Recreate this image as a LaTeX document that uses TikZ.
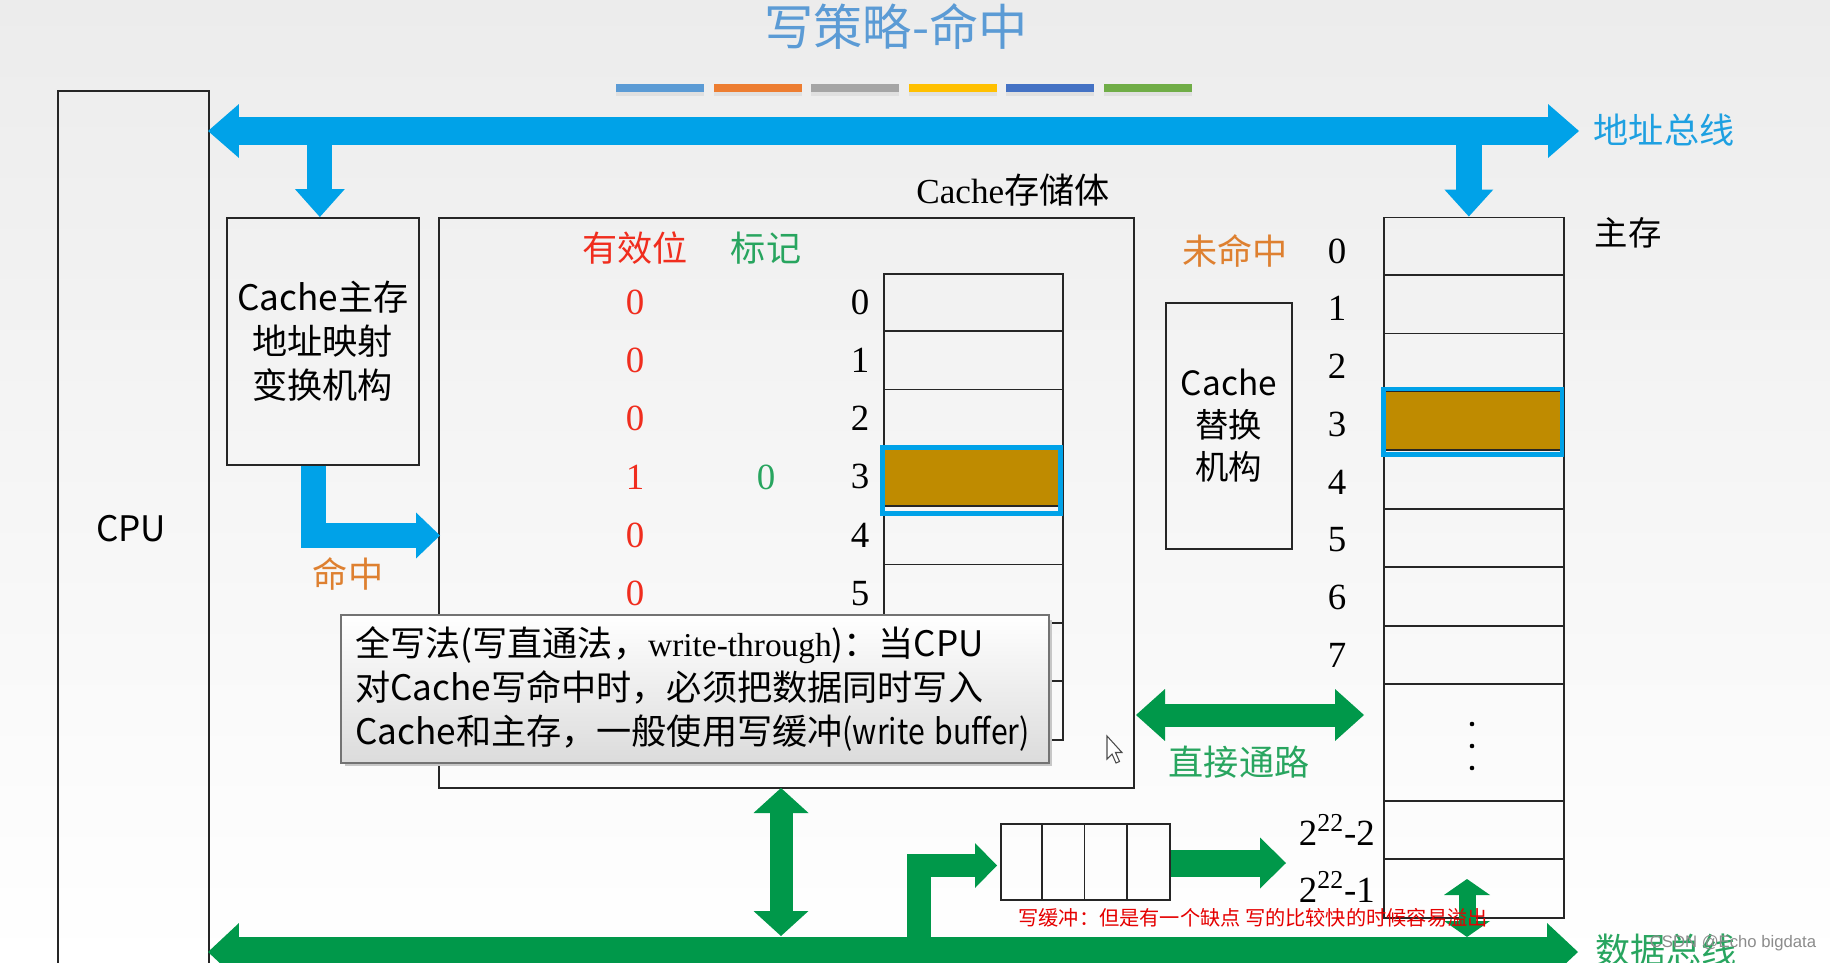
\documentclass[tikz,border=0pt]{standalone}
\usepackage{graphicx}
\usepackage{fontspec}
\setmainfont{Noto Sans CJK SC}
\newfontfamily\tnr{Liberation Serif}
\newfontfamily\arl{Liberation Sans}
\usetikzlibrary{arrows.meta}

\definecolor{busblue}{RGB}{0,162,232}
\definecolor{busgreen}{RGB}{0,152,74}
\definecolor{lblblue}{RGB}{30,160,225}
\definecolor{lblgreen}{RGB}{40,165,95}
\definecolor{lblred}{RGB}{240,45,30}
\definecolor{lblorange}{RGB}{222,128,48}
\definecolor{titleblue}{RGB}{91,155,213}
\definecolor{hitbrown}{RGB}{191,139,0}
\definecolor{bgtop}{RGB}{236,236,236}
\definecolor{bar1}{RGB}{91,155,213}
\definecolor{bar2}{RGB}{237,125,49}
\definecolor{bar3}{RGB}{165,165,165}
\definecolor{bar4}{RGB}{255,192,0}
\definecolor{bar5}{RGB}{68,114,196}
\definecolor{bar6}{RGB}{112,173,71}

\newcommand\fsz[2]{\fontsize{#1}{#2}\selectfont}

\tikzset{
  box/.style={draw=black!85, line width=1pt},
  rowline/.style={draw=black!85, line width=1pt},
  zh/.style={font=\fsz{20pt}{25pt}},
  num/.style={font=\tnr\fsz{21pt}{25pt}},
  fatblue/.style={draw=busblue, line width=#1, line join=miter},
  fatgreen/.style={draw=busgreen, line width=#1, line join=miter},
}

\begin{document}
\begin{tikzpicture}[x=0.02cm, y=-0.02cm]
\useasboundingbox (0,0) rectangle (1830,963);
\clip (0,0) rectangle (1830,963);
\shade[top color=bgtop, bottom color=white] (0,0) rectangle (1830,963);

% title with the colour strip under it
\node[font=\fsz{28pt}{32pt}, text=titleblue] (title) at (896,27) {写策略-命中};
\foreach \c [count=\i from 0] in {bar1,bar2,bar3,bar4,bar5,bar6}
  {
    \fill[black!12] (616+97.5*\i,91) rectangle +(88,5);
    \fill[\c] (616+97.5*\i,84) rectangle +(88,8);
  }

% CPU
\node[box, anchor=north west, minimum width=3.02cm, minimum height=18cm] (cpu) at (57,90) {};
\node[zh] (cpulbl) at (131,529) {CPU};

% mapping unit and cache
\node[box, anchor=north west, minimum width=3.84cm, minimum height=4.94cm,
      font=\fsz{20pt}{25pt}, align=center] (map) at (226,217) {Cache主存\\地址映射\\变换机构};
\node[box, anchor=north west, minimum width=13.9cm, minimum height=11.4cm] (cache) at (438,217) {};
\node[font=\fsz{20pt}{24pt}] (cachelbl) at (1013,190) {{\tnr Cache}存储体};

\node[zh, text=lblred] (vhead) at (635,248) {有效位};
\node[zh, text=lblgreen] (thead) at (766,248) {标记};

% cache lines
\node[box, anchor=north west, minimum width=3.58cm, minimum height=9.33cm] (crows) at (883,273) {};
\foreach \k in {1,...,7}
  \draw[rowline] (883,273+58.3*\k) -- (1062,273+58.3*\k);
\fill[hitbrown] (883,448) rectangle (1062,506);
\draw[rowline] (883,506) -- (1062,506);
\draw[busblue, line width=2.8pt] (882.5,447.5) rectangle (1060.5,513.5);

\foreach \v [count=\i from 0] in {0,0,0,1,0,0}
  {
    \node[num, text=lblred] (valid\i) at (635,302+58.3*\i) {\v};
    \node[num] (cidx\i) at (860,302+58.3*\i) {\i};
  }
\node[num, text=lblgreen] (tag3) at (766,477) {0};

% replacement unit
\node[box, anchor=north west, minimum width=2.52cm, minimum height=4.92cm,
      font=\fsz{19pt}{24pt}, align=center] (repl) at (1165,302) {Cache\\替换\\机构};
\node[zh, text=lblorange] (miss) at (1235,251) {未命中};

% main memory
\node[box, anchor=north west, minimum width=3.6cm, minimum height=14.01cm] (mem) at (1383,216.5) {};
\foreach \k in {1,...,8}
  \draw[rowline] (1383,216.5+58.45*\k) -- (1563,216.5+58.45*\k);
\draw[rowline] (1383,801) -- (1563,801);
\draw[rowline] (1383,859) -- (1563,859);
\fill[hitbrown] (1383,392) rectangle (1563,450.3);
\draw[rowline] (1383,450.3) -- (1563,450.3);
\draw[busblue, line width=2.8pt] (1383.5,389) rectangle (1562,454.5);
\foreach \i in {0,...,7}
  \node[num] (midx\i) at (1337,251+57.8*\i) {\i};
\foreach \y in {724,746,768}
  \fill (1472,\y) circle (1.3pt);
\node[num, anchor=east] (mlast2) at (1381,830) {2\textsuperscript{22}-2};
\node[num, anchor=east] (mlast1) at (1381,887) {2\textsuperscript{22}-1};
\node[font=\fsz{19pt}{22pt}] (memlbl) at (1628,233) {主存};

% write buffer
\node[box, anchor=north west, minimum width=3.38cm, minimum height=1.52cm] (buf) at (1000,823) {};
\foreach \i in {1,2,3}
  \draw[rowline] (1000+42.25*\i,823) -- (1000+42.25*\i,899);

% the note box
\fill[black!22] (345,620) rectangle (1052,766);
\node[anchor=north west, draw=black!55, line width=1.4pt, top color=white, bottom color=black!14,
      text width=13.6cm, minimum height=2.96cm, inner xsep=0.28cm, align=left,
      font=\fsz{20pt}{25pt}] (note) at (340,614)
  {全写法(写直通法，{\tnr\fsz{19pt}{25pt}write-through})：当CPU\\对Cache写命中时，必须把数据同时写入\\Cache和主存，一般使用写缓冲\scalebox{0.86}[1]{(write buffer)}};

% mouse pointer
\filldraw[fill=white, draw=black!70, line width=0.6pt]
  (1107,736) -- (1107,759) -- (1112,754) -- (1116,763) -- (1119.5,761.5)
  -- (1115.5,752.5) -- (1122,752.5) -- cycle;

% address bus and its branches
\coordinate (abusl) at (208,131);
\coordinate (abusr) at (1579,131);
\coordinate (mapin) at ([xshift=-0.06cm]map.north);
\coordinate (memin) at ([xshift=-0.1cm]mem.north);
\draw[fatblue=0.56cm, {Triangle[length=0.62cm,width=1.08cm,line width=0pt]}-{Triangle[length=0.62cm,width=1.08cm,line width=0pt]}]
  (abusl) -- (abusr);
\draw[fatblue=0.5cm, -{Triangle[length=0.56cm,width=1cm,line width=0pt]}] (mapin |- abusl) -- (mapin);
\draw[fatblue=0.52cm, -{Triangle[length=0.54cm,width=0.98cm,line width=0pt]}] (memin |- abusl) -- (memin);
\node[zh, text=lblblue] (abuslbl) at (1664,130) {地址总线};

% hit path
\coordinate (mapout) at ([xshift=-0.18cm]map.south);
\coordinate (hitin) at (440,535.5);
\draw[fatblue=0.5cm, -{Triangle[length=0.48cm,width=0.92cm,line width=0pt]}] (mapout) |- (hitin);
\node[zh, text=lblorange] (hitlbl) at (348,574) {命中};

% direct path
\coordinate (dpl) at (1136,715);
\coordinate (dpr) at (1364,715);
\draw[fatgreen=0.46cm, {Triangle[length=0.58cm,width=1.04cm,line width=0pt]}-{Triangle[length=0.58cm,width=1.04cm,line width=0pt]}]
  (dpl) -- (dpr);
\node[zh, text=lblgreen] (dplbl) at (1239,762) {直接通路};

% data bus
\coordinate (dbusl) at (208,952);
\coordinate (dbusr) at (1578,952);
\coordinate (cdtop) at (781,788);
\coordinate (cdbot) at (781,936);
\coordinate (bufbot) at (919,937);
\coordinate (bufin) at (997,865.5);
\coordinate (bufout) at (1286,863);
\coordinate (mtop) at (1467,879);
\coordinate (mbot) at (1467,937);
\draw[fatgreen=0.6cm, {Triangle[length=0.62cm,width=1.16cm,line width=0pt]}-{Triangle[length=0.62cm,width=1.16cm,line width=0pt]}]
  (dbusl) -- (dbusr);
\draw[fatgreen=0.46cm, {Triangle[length=0.5cm,width=1.1cm,line width=0pt]}-{Triangle[length=0.5cm,width=1.1cm,line width=0pt]}]
  (cdtop) -- (cdbot);
\draw[fatgreen=0.47cm, -{Triangle[length=0.44cm,width=0.9cm,line width=0pt]}] (bufbot) |- (bufin);
\draw[fatgreen=0.54cm, -{Triangle[length=0.52cm,width=1.02cm,line width=0pt]}] (buf.east |- bufout) -- (bufout);
\draw[fatgreen=0.34cm, {Triangle[length=0.32cm,width=0.92cm,line width=0pt]}-{Triangle[length=0.32cm,width=0.92cm,line width=0pt]}]
  (mtop) -- (mbot);
\node[zh, text=lblgreen] (dbuslbl) at (1666,950) {数据总线};

% remark and watermark
\node[font=\fsz{11.5pt}{13pt}, text=red!90!black] (remark) at (1253,918) {写缓冲：但是有一个缺点 写的比较快的时候容易溢出};
\node[font=\arl\fsz{9.5pt}{11pt}, text=black!45] (wmark) at (1733,943) {CSDN @Echo bigdata};

\end{tikzpicture}
\end{document}
